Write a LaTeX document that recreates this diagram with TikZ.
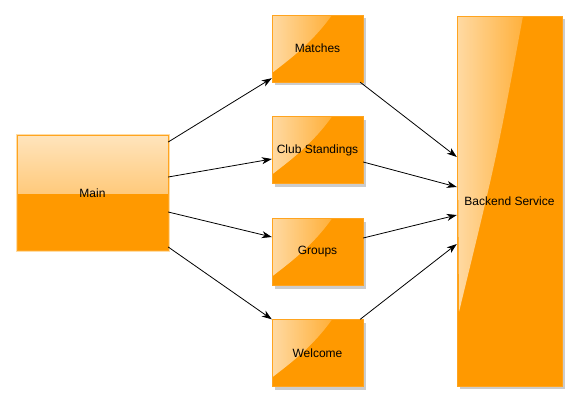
\documentclass[tikz,border=0pt]{standalone}
\usepackage{fontspec}
\setmainfont{Liberation Sans}
\usetikzlibrary{arrows.meta,shadows,fadings}
\definecolor{boxorange}{HTML}{FF9900}
\definecolor{boxedge}{HTML}{FFA41F}
\definecolor{mainlight}{HTML}{FFE4BC}
\definecolor{mainmid}{HTML}{FFB03C}
\definecolor{mainglow}{HTML}{FFDDA6}
\tikzfading[name=glossfade,left color=transparent!20,right color=transparent!100]
\begin{document}
\begin{tikzpicture}[x=1pt,y=-1pt]
\tikzset{gloss/.style={fill=white,path fading=glossfade,fill opacity=0.8}}
\tikzset{box/.style={rectangle,minimum width=91pt,minimum height=67pt,inner sep=0pt,draw=boxedge,fill=boxorange,text=black,
  font=\fontsize{12}{14}\selectfont,
  drop shadow={shadow xshift=3pt,shadow yshift=-3pt,fill=black!50,opacity=0.4},
  path picture={\fill[gloss] (path picture bounding box.north west) -- ([xshift=60pt]path picture bounding box.north west)
     .. controls ([xshift=40pt,yshift=-28pt]path picture bounding box.north west) and ([xshift=18pt,yshift=-44pt]path picture bounding box.north west) .. ([yshift=-58pt]path picture bounding box.north west) -- cycle;}}}
\tikzset{mainbox/.style={rectangle,minimum width=151pt,minimum height=115pt,inner sep=0pt,draw=boxedge,fill=boxorange,text=black,
  font=\fontsize{12}{14}\selectfont,
  preaction={draw=mainglow,line width=3pt},
  path picture={\shade[top color=mainlight,bottom color=mainmid] (path picture bounding box.north west) rectangle (path picture bounding box.east);}}}
\tikzset{backbox/.style={rectangle,minimum width=105pt,minimum height=370pt,inner sep=0pt,draw=boxedge,fill=boxorange,text=black,
  font=\fontsize{12}{14}\selectfont,
  drop shadow={shadow xshift=3pt,shadow yshift=-3pt,fill=black!50,opacity=0.4},
  path picture={\fill[gloss] (path picture bounding box.north west) -- ([xshift=66pt]path picture bounding box.north west)
     .. controls ([xshift=40pt,yshift=-140pt]path picture bounding box.north west) .. ([xshift=2pt,yshift=-296pt]path picture bounding box.north west) -- cycle;}}}
\tikzset{flow/.style={-{Stealth[length=10pt,width=7pt,inset=3pt]},line width=0.8pt,black}}

  \useasboundingbox (0,0) rectangle (577,402);

  \draw (92.5,193) node[mainbox](main) {Main};
  \draw (317.5,48.5) node[box](matches) {Matches};
  \draw (317.5,150) node[box](club) {Club Standings};
  \draw (317.5,252) node[box](groups) {Groups};
  \draw (317.5,353) node[box](welcome) {Welcome};
  \draw (509.5,201) node[backbox](backend) {Backend Service};

  \draw [flow] ([yshift=51pt]main.east) to ([yshift=4pt]matches.south west);
  \draw [flow] ([yshift=16pt]main.east) to ([yshift=-9pt]club.west);
  \draw [flow] ([yshift=-19pt]main.east) to ([yshift=15pt]groups.west);
  \draw [flow] ([yshift=-54pt]main.east) to (welcome.north west);

  \draw [flow] ([xshift=-3pt]matches.south east) to ([yshift=44pt]backend.west);
  \draw [flow] ([yshift=-12pt]club.east) to ([yshift=14pt]backend.west);
  \draw [flow] ([yshift=14pt]groups.east) to ([yshift=-14pt]backend.west);
  \draw [flow] ([xshift=-3pt]welcome.north east) to ([yshift=-43pt]backend.west);

\end{tikzpicture}
\end{document}
